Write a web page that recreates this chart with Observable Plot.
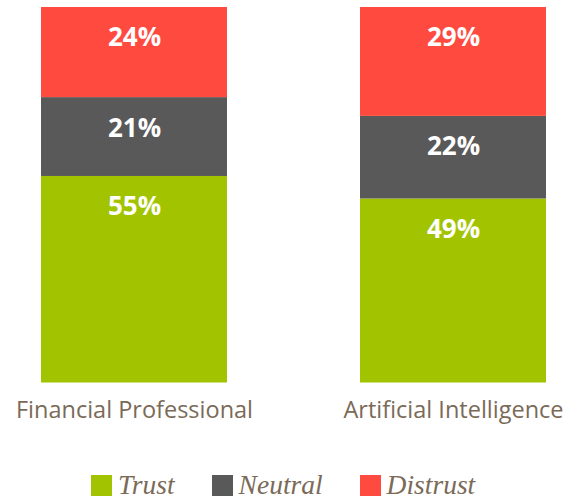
<!DOCTYPE html>
<html>
<head>
<meta charset="utf-8">
<script src="https://cdn.jsdelivr.net/npm/d3@7"></script>
<script src="https://cdn.jsdelivr.net/npm/@observablehq/plot@0.6"></script>
<style>
  html, body { margin: 0; padding: 0; background: #fff; }
  #chart { width: 577px; }
  .legend { display: flex; align-items: center; margin-top: 35px; padding-left: 91px; height: 21px;
    font-family: "Liberation Serif", serif; font-style: italic; font-size: 27.5px; color: #7a6a58; }
  .legend .item { display: flex; align-items: center; margin-right: 37px; }
  .legend .sw { width: 21px; height: 21px; margin-right: 6px; }
  .legend span.t { line-height: 21px; position: relative; top: -1px; }
</style>
</head>
<body>
<div id="chart"></div>
<script>
const categories = ["Financial Professional", "Artificial Intelligence"];
const seriesNames = ["Trust", "Neutral", "Distrust"];
const seriesColors = ["#a2c400", "#595959", "#ff4b3f"];
const trustValues = [55, 49];
const neutralValues = [21, 22];
const distrustValues = [24, 29];

const seriesValues = [trustValues, neutralValues, distrustValues];
const data = [];
seriesNames.forEach((s, i) => {
  categories.forEach((c, j) => {
    data.push({category: c, series: s, value: seriesValues[i][j]});
  });
});

const textColor = "#7a6a58";

const plot = Plot.plot({
  width: 577,
  height: 440,
  marginTop: 7,
  marginBottom: 57.5,
  marginLeft: 41,
  marginRight: 30,
  style: {fontFamily: "'Open Sans', sans-serif", background: "#fff"},
  x: {domain: categories, paddingInner: 0.416, paddingOuter: 0, label: null},
  y: {domain: [0, 100], axis: null},
  color: {domain: seriesNames, range: seriesColors},
  marks: [
    Plot.barY(data, {x: "category", y: "value", fill: "series", order: seriesNames, inset: 0}),
    Plot.text(data, Plot.stackY2({
      x: "category", y: "value", z: "series", order: seriesNames,
      text: d => d.value + "%",
      fill: "#fff", fontWeight: "bold", fontSize: 26,
      lineAnchor: "top", dy: 20.5
    })),
    Plot.axisX({tickSize: 0, tickPadding: 18, fontSize: 23.5, fill: textColor, label: null})
  ]
});
document.getElementById("chart").appendChild(plot);

const legend = document.createElement("div");
legend.className = "legend";
seriesNames.forEach((s, i) => {
  const item = document.createElement("div");
  item.className = "item";
  const sw = document.createElement("div");
  sw.className = "sw";
  sw.style.background = seriesColors[i];
  const t = document.createElement("span");
  t.className = "t";
  t.textContent = s;
  item.appendChild(sw);
  item.appendChild(t);
  legend.appendChild(item);
});
document.body.appendChild(legend);
</script>
</body>
</html>
